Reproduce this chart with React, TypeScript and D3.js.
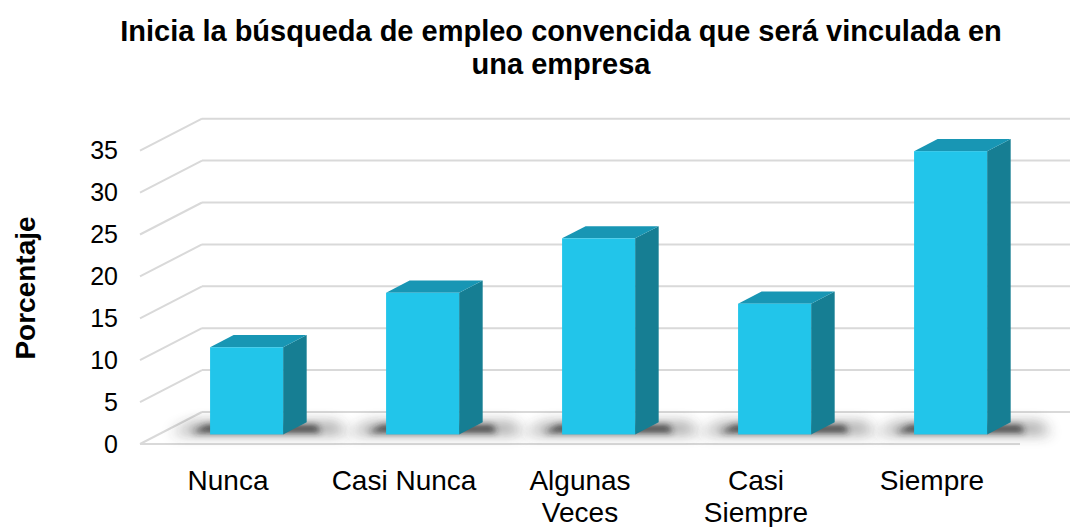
import React, { useEffect, useRef } from 'react'
import * as d3 from 'd3'

const categories = ['Nunca', 'Casi Nunca', 'Algunas Veces', 'Casi Siempre', 'Siempre']
const categoryLines = [['Nunca'], ['Casi Nunca'], ['Algunas', 'Veces'], ['Casi', 'Siempre'], ['Siempre']]
const values = [10.4, 16.9, 23.4, 15.6, 33.8]
const yTicks = [0, 5, 10, 15, 20, 25, 30, 35]
const titleLines = ['Inicia la búsqueda de empleo convencida que será vinculada en', 'una empresa']
const yTitle = 'Porcentaje'

const width = 1070
const height = 527
const FONT = "Arial, 'Liberation Sans', sans-serif"

const App: React.FC = () => {
  const svgRef = useRef<SVGSVGElement>(null)

  useEffect(() => {
    const svg = d3.select(svgRef.current)
    svg.selectAll('*').remove()

    // floor / depth geometry
    const left = 140
    const right = 1020
    const depthX = 62
    const depthY = -32
    const barFront = 0.3
    const barDepth = 0.38

    const x = d3.scaleBand<string>().domain(categories).range([left, right]).padding(0)
    const y = d3.scaleLinear().domain([0, 35]).range([444, 150.7])

    const defs = svg.append('defs')
    const addBlur = (id: string, sd: number) => {
      defs.append('filter')
        .attr('id', id)
        .attr('x', '-50%').attr('y', '-150%').attr('width', '200%').attr('height', '400%')
        .append('feGaussianBlur')
        .attr('stdDeviation', sd)
    }
    addBlur('shadowSoft', 7)
    addBlur('shadowHard', 3)

    // gridlines: diagonal on the side wall + horizontal on the back wall
    const grid = svg.append('g')
    yTicks.forEach(t => {
      const y0 = y(t)
      grid.append('line')
        .attr('x1', left).attr('y1', y0)
        .attr('x2', left + depthX).attr('y2', y0 + depthY)
        .attr('stroke', '#d9d9d9').attr('stroke-width', 2)
      grid.append('line')
        .attr('x1', left + depthX).attr('y1', y0 + depthY)
        .attr('x2', right + depthX).attr('y2', y0 + depthY)
        .attr('stroke', '#d9d9d9').attr('stroke-width', 2)
    })
    // front floor edge
    grid.append('line')
      .attr('x1', left).attr('y1', y(0))
      .attr('x2', right).attr('y2', y(0))
      .attr('stroke', '#d9d9d9').attr('stroke-width', 2)

    // y tick labels
    svg.append('g')
      .selectAll('text')
      .data(yTicks)
      .enter()
      .append('text')
      .attr('x', 118)
      .attr('y', d => y(d))
      .attr('dy', '0.35em')
      .attr('text-anchor', 'end')
      .attr('font-family', FONT)
      .attr('font-size', 25)
      .attr('fill', '#000')
      .text(d => d)

    const bw = x.bandwidth() * 0.415
    const fdx = depthX * barFront
    const fdy = depthY * barFront
    const ddx = depthX * barDepth
    const ddy = depthY * barDepth

    const pts = (arr: number[][]) => arr.map(p => p.join(',')).join(' ')

    const bars = svg.append('g')
    categories.forEach((c, i) => {
      const cx = (x(c) || 0) + x.bandwidth() / 2 + fdx
      const x0 = cx - bw / 2
      const x1 = cx + bw / 2
      const yb = y(0) + fdy
      const yt = y(values[i]) + fdy

      // shadow on the floor (soft outer + darker core)
      bars.append('polygon')
        .attr('points', pts([
          [x0 - 40, yb - 1],
          [x1 + ddx + 40, yb - 1],
          [x1 + ddx + 30, yb + ddy + 1],
          [x0 - 15, yb + ddy + 1]
        ]))
        .attr('fill', '#333')
        .attr('opacity', 0.55)
        .attr('filter', 'url(#shadowSoft)')
      bars.append('polygon')
        .attr('points', pts([
          [x0 - 18, yb - 2],
          [x1 + ddx + 14, yb - 2],
          [x1 + ddx + 10, yb + ddy + 3],
          [x0 - 4, yb + ddy + 3]
        ]))
        .attr('fill', '#222')
        .attr('opacity', 0.8)
        .attr('filter', 'url(#shadowHard)')

      // side face
      bars.append('polygon')
        .attr('points', pts([[x1, yb], [x1 + ddx, yb + ddy], [x1 + ddx, yt + ddy], [x1, yt]]))
        .attr('fill', '#167e93')

      // top face
      bars.append('polygon')
        .attr('points', pts([[x0, yt], [x1, yt], [x1 + ddx, yt + ddy], [x0 + ddx, yt + ddy]]))
        .attr('fill', '#1896b4')

      // front face
      bars.append('rect')
        .attr('x', x0)
        .attr('y', yt)
        .attr('width', bw)
        .attr('height', yb - yt)
        .attr('fill', '#22c5ea')
    })

    // category labels
    const labels = svg.append('g')
    categories.forEach((c, i) => {
      const lx = (x(c) || 0) + x.bandwidth() / 2
      const t = labels.append('text')
        .attr('x', lx)
        .attr('y', 490)
        .attr('text-anchor', 'middle')
        .attr('font-family', FONT)
        .attr('font-size', 28)
        .attr('fill', '#000')
      categoryLines[i].forEach((ln, j) => {
        t.append('tspan')
          .attr('x', lx)
          .attr('dy', j === 0 ? 0 : 32)
          .text(ln)
      })
    })

    // title
    const title = svg.append('text')
      .attr('x', 561)
      .attr('y', 41)
      .attr('text-anchor', 'middle')
      .attr('font-family', FONT)
      .attr('font-size', 29)
      .attr('font-weight', 'bold')
      .attr('fill', '#000')
    titleLines.forEach((ln, j) => {
      title.append('tspan')
        .attr('x', 561)
        .attr('dy', j === 0 ? 0 : 33)
        .text(ln)
    })

    // y axis title
    svg.append('text')
      .attr('transform', `translate(35, 288) rotate(-90)`)
      .attr('text-anchor', 'middle')
      .attr('font-family', FONT)
      .attr('font-size', 28)
      .attr('font-weight', 'bold')
      .attr('fill', '#000')
      .text(yTitle)
  }, [])

  return (
    <svg
      ref={svgRef}
      width={width}
      height={height}
      style={{ position: 'absolute', left: 0, top: 0, background: '#fff' }}
    />
  )
}

export default App
